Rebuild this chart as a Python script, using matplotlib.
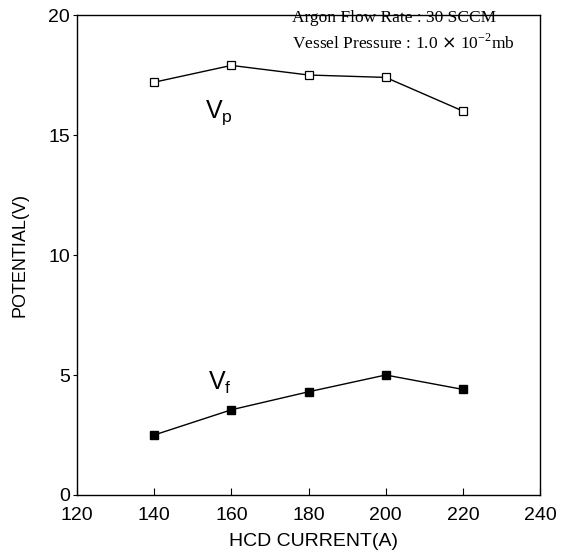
import matplotlib
matplotlib.use("Agg")
import matplotlib.pyplot as plt

current = [140, 160, 180, 200, 220]
vp = [17.2, 17.9, 17.5, 17.4, 16.0]
vf = [2.5, 3.55, 4.3, 5.0, 4.4]
xticks = [120, 140, 160, 180, 200, 220, 240]
yticks = [0, 5, 10, 15, 20]

plt.rcParams['font.family'] = ['Liberation Sans', 'DejaVu Sans']

fig = plt.figure(figsize=(5.73, 5.54), dpi=100)
ax = fig.add_axes([0.1344, 0.1065, 0.808, 0.8664])

ax.plot(current, vp, color='black', lw=1.0, marker='s', ms=6,
        mfc='white', mec='black', mew=0.9)
ax.plot(current, vf, color='black', lw=1.0, marker='s', ms=5.5,
        mfc='black', mec='black')

ax.set_xlim(120, 240)
ax.set_ylim(0, 20)
ax.set_xticks(xticks)
ax.set_yticks(yticks)
ax.tick_params(axis='x', direction='in', length=5, labelsize=14, pad=9)
ax.tick_params(axis='y', direction='out', length=3, labelsize=14, pad=2)
for s in ax.spines.values():
    s.set_linewidth(1.0)

ax.set_xlabel('HCD CURRENT(A)', fontsize=14, va='center')
ax.xaxis.set_label_coords(0.51, -0.097)
ax.set_ylabel('POTENTIAL(V)', fontsize=13, va='center')
ax.yaxis.set_label_coords(-0.123, 0.5)

ax.text(153.2, 15.7, r'V$_\mathregular{p}$', fontsize=18, ha='left', va='baseline')
ax.text(154, 4.37, r'V$_\mathregular{f}$', fontsize=18, ha='left', va='baseline')

serif = ['Liberation Serif', 'DejaVu Serif']
ax.text(0.465, (480 - 3) / 480, 'Argon Flow Rate : 30 SCCM', transform=ax.transAxes,
        fontsize=12.5, family=serif, va='center', ha='left')
ax.text(0.465, (480 - 28) / 480, r'Vessel Pressure : 1.0 $\times$ 10$^{\mathregular{-2}}$mb',
        transform=ax.transAxes, fontsize=12.5, family=serif, va='center', ha='left')

fig.savefig('out.png', dpi=100)
